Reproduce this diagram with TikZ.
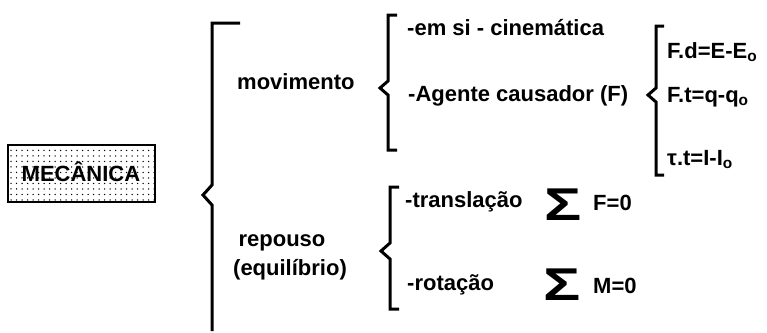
\documentclass[tikz,border=0pt]{standalone}
\usepackage{fontspec}
\setmainfont{Liberation Sans}
\usetikzlibrary{patterns.meta}

\begin{document}
\begin{tikzpicture}[x=1pt, y=-1pt]
\tikzset{
  lbl/.style={font=\fontsize{22}{26}\selectfont\bfseries, anchor=base west, inner sep=0pt},
  sigma/.style={font=\fontsize{46}{46}\selectfont\bfseries, xscale=1.35, inner sep=0pt},
  chave/.style={line width=3pt, line join=miter},
  caixa/.style={draw, line width=1.6pt, pattern={Dots[distance=5.5pt, radius=0.75pt]}, pattern color=black}
}
\useasboundingbox (0,0) rectangle (767,332);

% caixa principal
\draw[caixa] (8,145) rectangle (155,202);
\node[lbl, anchor=base] (mec) at (81,181) {MECÂNICA};

% chave grande
\draw[chave] (240,23) -- (212,23) -- (212,185) -- (203,195) -- (212,205) -- (212,331);

% ramo movimento
\node[lbl] (mov) at (237,89) {movimento};
\draw[chave] (397,15) -- (388,15) -- (388,81) -- (380,88) -- (388,95) -- (388,150) -- (397,150);
\node[lbl] (emsi) at (407,35) {-em si - cinemática};
\node[lbl] (agente) at (408,101) {-Agente causador (F)};

\draw[chave] (664,26) -- (656,26) -- (656,88) -- (648,95) -- (656,102) -- (656,175) -- (664,175);
\node[lbl] (fd) at (667,58) {F.d=E-E\textsubscript{o}};
\node[lbl] (ft) at (667,102) {F.t=q-q\textsubscript{o}};
\node[lbl] (tt) at (667,165) {τ.t=I-I\textsubscript{o}};

% ramo repouso
\node[lbl, anchor=base] (rep) at (282,246) {repouso};
\node[lbl, anchor=base] (equ) at (290,275) {(equilíbrio)};
\draw[chave] (399,187) -- (390,187) -- (390,243) -- (381,251) -- (390,259) -- (390,309) -- (399,309);
\node[lbl] (trans) at (405,207) {-translação};
\node[sigma] (sig1) at (563,205) {Σ};
\node[lbl] (f0) at (593,210) {F=0};
\node[lbl] (rot) at (407,290) {-rotação};
\node[sigma] (sig2) at (562,285) {Σ};
\node[lbl] (m0) at (593,293) {M=0};
\end{tikzpicture}
\end{document}
